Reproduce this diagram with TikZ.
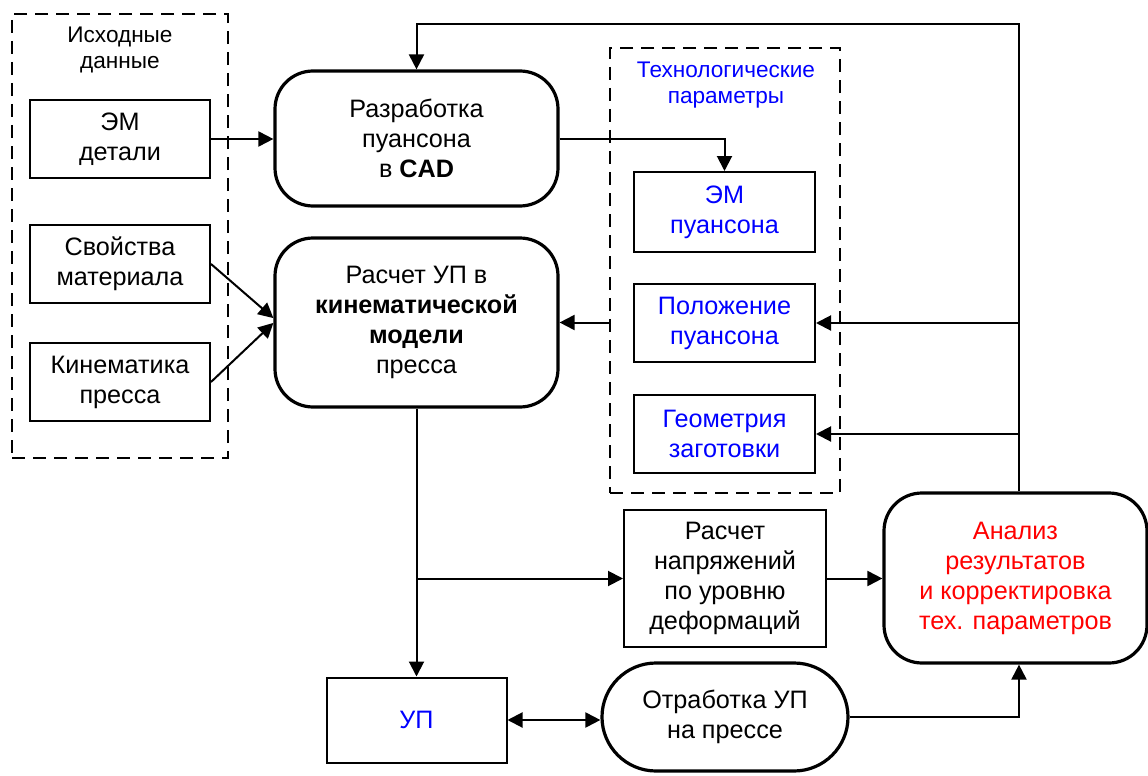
\documentclass[tikz,border=0pt]{standalone}
\usepackage{fontspec}
\setmainfont{Liberation Sans}
\usetikzlibrary{arrows.meta}
\begin{document}
\begin{tikzpicture}[x=0.5pt,y=-0.5pt,
  font=\fontsize{12.6}{15}\selectfont,
  plainbox/.style={draw, line width=1pt, align=center, inner sep=0pt},
  rbox/.style={draw, line width=1.6pt, rounded corners=19pt, align=center, inner sep=0pt},
  dbox/.style={draw, line width=1pt, dash pattern=on 6.5pt off 4pt, inner sep=0pt},
  arr/.style={line width=1pt, -{Triangle[length=7.5pt,width=7.5pt]}},
  arrtwo/.style={line width=1pt, {Triangle[length=7.5pt,width=7.5pt]}-{Triangle[length=7.5pt,width=7.5pt]}},
  conn/.style={line width=1pt},
  lbl/.style={align=center, inner sep=0pt, font=\fontsize{11.3}{12.7}\selectfont}
]
\useasboundingbox (0,0) rectangle (1148,776);

% dashed groups
\node[dbox, minimum width=108pt, minimum height=222pt] (src) at (120,236) {};
\node[lbl] (srclbl) at (120,50) {Исходные\\данные};
\node[dbox, minimum width=115pt, minimum height=222.5pt] (tech) at (725,270.5) {};
\node[lbl, text=blue] (techlbl) at (726,85) {Технологические\\параметры};

% left inputs
\node[plainbox, minimum width=90pt, minimum height=39pt] (emd) at (120,139) {ЭМ\\детали};
\node[plainbox, minimum width=90pt, minimum height=39pt] (svm) at (120,264) {Свойства\\материала};
\node[plainbox, minimum width=90pt, minimum height=39pt] (kin) at (120,382) {Кинематика\\пресса};

% main blocks
\node[rbox, minimum width=141.5pt, minimum height=67.5pt] (cad) at (416.5,138.5) {Разработка\\пуансона\\в \textbf{CAD}};
\node[rbox, minimum width=141.5pt, minimum height=84.5pt] (rup) at (416.5,322.5) {Расчет УП в\\\textbf{кинематической}\\\textbf{модели}\\пресса};

% tech params
\node[plainbox, text=blue, minimum width=90.5pt, minimum height=40pt] (emp) at (724.5,212) {ЭМ\\пуансона};
\node[plainbox, text=blue, minimum width=90.5pt, minimum height=39pt] (pol) at (724.5,323) {Положение\\пуансона};
\node[plainbox, text=blue, minimum width=90.5pt, minimum height=39pt] (geo) at (724.5,434) {Геометрия\\заготовки};

% lower blocks
\node[plainbox, minimum width=101pt, minimum height=68.5pt] (rnap) at (725,578.5) {Расчет\\напряжений\\по уровню\\деформаций};
\node[rbox, text=red, minimum width=131.5pt, minimum height=85pt] (an) at (1015.5,578) {Анализ\\результатов\\и корректировка\\тех. параметров};
\node[plainbox, text=blue, minimum width=90pt, minimum height=42.5pt] (up) at (416.5,720) {УП};
\node[rbox, rounded corners=27pt, minimum width=123pt, minimum height=54pt] (otr) at (725,717) {Отработка УП\\на прессе};

% helper coordinates
\coordinate (rx) at (1019,24);
\coordinate (br) at (416.5,578.5);

% connectors
\draw[arr] (emd.east) -- (emd.east -| cad.west);
\draw[arr] (cad.east) -| (emp.north);
\draw[arr] (svm.east) -- ([yshift=2.2pt]rup.west);
\draw[arr] (kin.east) -- ([yshift=-0.2pt]rup.west);
\draw[arr] (rup.east -| tech.west) -- (rup.east);
\draw[arr] (an.north -| rx) -- (rx) -| (cad.north);
\draw[arr] (pol.east -| rx) -- (pol.east);
\draw[arr] (geo.east -| rx) -- (geo.east);
\draw[arr] (rup.south) -- (up.north);
\draw[arr] (br) -- (br -| rnap.west);
\draw[arr] (rnap.east) -- (rnap.east -| an.west);
\draw[arrtwo] (up.east) -- (up.east -| otr.west);
\draw[arr] (otr.east) -| (an.south -| rx);
\end{tikzpicture}
\end{document}
